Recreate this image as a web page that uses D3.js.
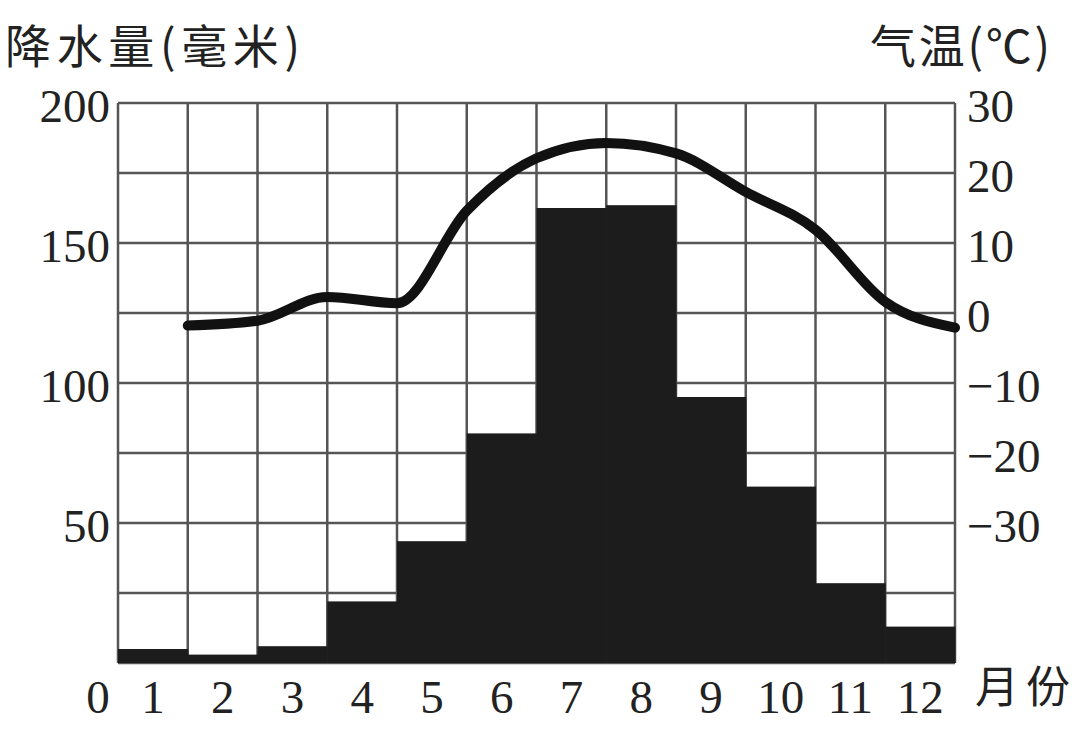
<!DOCTYPE html>
<html>
<head>
<meta charset="utf-8">
<script src="https://cdn.jsdelivr.net/npm/d3@7"></script>
<style>
  body { margin: 0; background: #fff; }
  svg { display: block; }
</style>
</head>
<body>
<svg id="Climate" width="1074" height="736"></svg>
<script>
// monthly data
var months = [1, 2, 3, 4, 5, 6, 7, 8, 9, 10, 11, 12];
var rain = [5, 3, 6, 22, 43.5, 82, 162.5, 163.5, 95, 63, 28.5, 13];
var temp = [-1.8, -1.1, 2.3, 1.4, 14.6, 22.1, 24.3, 22.8, 17.3, 11.9, 1.6, -2.1];
var rainTicks = [50, 100, 150, 200];
var tempTicks = [30, 20, 10, 0, -10, -20, -30];

(function Climate() {
    var svg = d3.select("#Climate"),
        left = 118, right = 955, top = 103, bottom = 663;

    var x = d3.scaleLinear().domain([0, 12]).range([left, right]);
    var yRain = d3.scaleLinear().domain([0, 200]).range([bottom, top]);
    var yTemp = d3.scaleLinear().domain([-50, 30]).range([bottom, top]);

    var numFont = "'Liberation Serif', 'DejaVu Serif', serif";
    var cjkFont = "'Noto Sans CJK SC', 'Noto Sans', sans-serif";

    // grid
    var grid = svg.append("g")
                  .attr("stroke", "#555")
                  .attr("stroke-width", 2.5);

    grid.selectAll(".h")
        .data(d3.range(0, 201, 25))
        .enter().append("line")
        .attr("x1", left).attr("x2", right)
        .attr("y1", function(d) { return yRain(d); })
        .attr("y2", function(d) { return yRain(d); });

    grid.selectAll(".v")
        .data(d3.range(0, 13))
        .enter().append("line")
        .attr("y1", top).attr("y2", bottom)
        .attr("x1", function(d) { return x(d); })
        .attr("x2", function(d) { return x(d); });

    // precipitation bars
    svg.append("g").selectAll("rect")
       .data(months)
       .enter().append("rect")
       .attr("x", function(d) { return x(d - 1); })
       .attr("width", function(d) { return x(d) - x(d - 1) + 0.5; })
       .attr("y", function(d, i) { return yRain(rain[i]); })
       .attr("height", function(d, i) { return yRain(0) - yRain(rain[i]); })
       .attr("fill", "#1c1c1c");

    // temperature curve
    var line = d3.line()
                 .x(function(d) { return x(d); })
                 .y(function(d, i) { return yTemp(temp[i]); })
                 .curve(d3.curveMonotoneX);

    svg.append("path")
       .datum(months)
       .attr("d", line)
       .attr("fill", "none")
       .attr("stroke", "#111")
       .attr("stroke-width", 10)
       .attr("stroke-linecap", "round")
       .attr("stroke-linejoin", "round");

    // left axis labels
    svg.append("g").selectAll("text")
       .data(rainTicks)
       .enter().append("text")
       .attr("x", 110)
       .attr("y", function(d) { return yRain(d) + 19; })
       .attr("text-anchor", "end")
       .style("font-family", numFont)
       .style("font-size", "47px")
       .attr("fill", "#222")
       .text(function(d) { return d; });

    // right axis labels
    svg.append("g").selectAll("text")
       .data(tempTicks)
       .enter().append("text")
       .attr("x", 967)
       .attr("y", function(d) { return yTemp(d) + 19; })
       .style("font-family", numFont)
       .style("font-size", "47px")
       .attr("fill", "#222")
       .text(function(d) { return d < 0 ? "\u2212" + Math.abs(d) : d; });

    // month labels
    svg.append("g").selectAll("text")
       .data(months)
       .enter().append("text")
       .attr("x", function(d) { return x(d - 0.5); })
       .attr("y", 713)
       .attr("text-anchor", "middle")
       .style("font-family", numFont)
       .style("font-size", "47px")
       .attr("fill", "#222")
       .text(function(d) { return d; });

    svg.append("text")
       .attr("x", 98)
       .attr("y", 713)
       .attr("text-anchor", "middle")
       .style("font-family", numFont)
       .style("font-size", "47px")
       .attr("fill", "#222")
       .text("0");

    // titles
    svg.append("text")
       .attr("x", 5)
       .attr("y", 63)
       .attr("textLength", 295)
       .attr("lengthAdjust", "spacing")
       .style("font-family", cjkFont)
       .style("font-size", "46px")
       .attr("fill", "#222")
       .text("降水量(毫米)");

    svg.append("text")
       .attr("x", 870)
       .attr("y", 63)
       .attr("textLength", 180)
       .attr("lengthAdjust", "spacing")
       .style("font-family", cjkFont)
       .style("font-size", "46px")
       .attr("fill", "#222")
       .text("气温(℃)");

    svg.append("text")
       .attr("x", 975)
       .attr("y", 703)
       .attr("textLength", 95)
       .attr("lengthAdjust", "spacing")
       .style("font-family", cjkFont)
       .style("font-size", "44px")
       .attr("fill", "#222")
       .text("月份");
}());
</script>
</body>
</html>
